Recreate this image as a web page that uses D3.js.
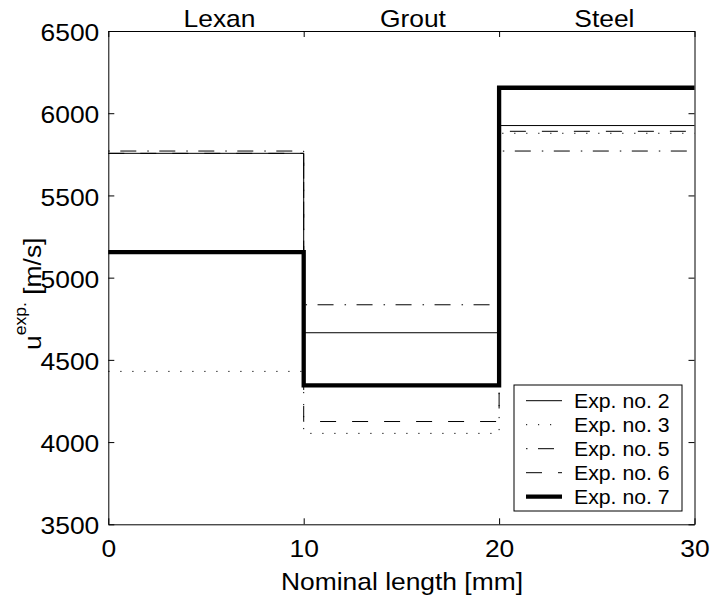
<!DOCTYPE html>
<html>
<head>
<meta charset="utf-8">
<script src="https://cdn.jsdelivr.net/npm/d3@7"></script>
<style>
  body { margin: 0; background: #fff; }
  svg { display: block; font-family: "Liberation Sans", Arial, Helvetica, sans-serif; }
</style>
</head>
<body>
<svg id="chart" width="713" height="598"></svg>
<script>
// Layer boundaries along the specimen [mm]
const edges = [0, 10, 20, 30];
const materials = ["Lexan", "Grout", "Steel"];
const materialLabelX = [3.85, 13.9, 23.85];
const xTicks = [0, 10, 20, 30];
const yTicks = [3500, 4000, 4500, 5000, 5500, 6000, 6500];

// Measured wave speed per layer [m/s]
const seriesNames = ["Exp. no. 2", "Exp. no. 3", "Exp. no. 5", "Exp. no. 6", "Exp. no. 7"];
const exp2 = [5756, 4665, 5925];
const exp3 = [4430, 4053, 5878];
const exp5 = [5770, 4835, 5770];
const exp6 = [5756, 4125, 5890];
const exp7 = [5155, 4345, 6155];
const seriesValues = [exp2, exp3, exp5, exp6, exp7];

// Line styles: solid, dotted, dash-dot, dashed, thick solid
const seriesDash = [null, "1.2,10.8", "1.5,10.5,16,11", "16,16", null];
const seriesWidth = [1, 1, 1, 1, 4.3];

const SX = 1.1; // horizontal glyph stretch
const W = 713, H = 598;
const plotL = 108.3, plotR = 694.5, plotT = 31, plotB = 524.3;

const svg = d3.select("#chart");
svg.append("rect").attr("width", W).attr("height", H).attr("fill", "#fff");

const x = d3.scaleLinear().domain([0, 30]).range([plotL, plotR]);
const y = d3.scaleLinear().domain([3500, 6500]).range([plotB, plotT]);

// Step lines
const line = d3.line()
  .x(d => x(d[0]))
  .y(d => y(d[1]))
  .curve(d3.curveStepAfter);

const stepPoints = vals => edges.map((e, i) => [e, vals[Math.min(i, vals.length - 1)]]);

const linesG = svg.append("g");
seriesValues.forEach((vals, i) => {
  linesG.append("path")
    .attr("d", line(stepPoints(vals)))
    .attr("fill", "none")
    .attr("stroke", "#000")
    .attr("stroke-width", seriesWidth[i])
    .attr("stroke-dasharray", seriesDash[i])
    .attr("stroke-linejoin", "miter")
    .attr("stroke-linecap", "butt");
});

// Axes (inward ticks, boxed)
const tick = 6;
const axisStyle = g => {
  g.select(".domain").attr("stroke", "#000").attr("stroke-width", 1);
  g.selectAll(".tick line").attr("stroke", "#000").attr("stroke-width", 1);
};

const gx = svg.append("g")
  .attr("transform", `translate(0,${plotB})`)
  .call(d3.axisBottom(x).tickValues(xTicks).tickFormat(d3.format("d"))
        .tickSizeInner(-tick).tickSizeOuter(0))
  .call(axisStyle);
gx.selectAll(".tick text")
  .attr("y", 32.4).attr("dy", null)
  .attr("font-size", 24).attr("fill", "#000")
  .attr("transform", `scale(${SX},1)`);

const gy = svg.append("g")
  .attr("transform", `translate(${plotL},0)`)
  .call(d3.axisLeft(y).tickValues(yTicks).tickFormat(d3.format("d"))
        .tickSizeInner(-tick).tickSizeOuter(0))
  .call(axisStyle);
gy.selectAll(".tick text")
  .attr("x", -8.2).attr("dy", "0.4em")
  .attr("font-size", 24).attr("fill", "#000")
  .attr("transform", `scale(${SX},1)`);

svg.append("g")
  .attr("transform", `translate(0,${plotT})`)
  .call(d3.axisTop(x).tickValues(xTicks).tickFormat("")
        .tickSizeInner(-tick).tickSizeOuter(0))
  .call(axisStyle);

svg.append("g")
  .attr("transform", `translate(${plotR},0)`)
  .call(d3.axisRight(y).tickValues(yTicks).tickFormat("")
        .tickSizeInner(-tick).tickSizeOuter(0))
  .call(axisStyle);

// Material names above each layer
materials.forEach((m, i) => {
  svg.append("text")
    .attr("transform", `translate(${x(materialLabelX[i])},${plotT - 4.3}) scale(${SX},1)`)
    .attr("font-size", 24)
    .attr("fill", "#000")
    .text(m);
});

// Axis titles
svg.append("text")
  .attr("transform", `translate(402,590) scale(${SX},1)`)
  .attr("text-anchor", "middle")
  .attr("font-size", 24)
  .attr("fill", "#000")
  .text("Nominal length [mm]");

const yl = svg.append("text")
  .attr("transform", `translate(41,350) rotate(-90) scale(${SX},1)`)
  .attr("font-size", 24)
  .attr("fill", "#000");
yl.append("tspan").text("u");
yl.append("tspan").attr("font-size", 16).attr("dy", -15).text("exp.");
yl.append("tspan").attr("dy", 15).text(" [m/s]");

// Legend
const lg = svg.append("g");
lg.append("rect")
  .attr("x", 514).attr("y", 385)
  .attr("width", 168).attr("height", 126)
  .attr("fill", "#fff").attr("stroke", "#000").attr("stroke-width", 1);

seriesNames.forEach((name, i) => {
  const ry = 400.7 + i * 24;
  lg.append("line")
    .attr("x1", 526).attr("x2", 562)
    .attr("y1", ry).attr("y2", ry)
    .attr("stroke", "#000")
    .attr("stroke-width", seriesWidth[i])
    .attr("stroke-dasharray", seriesDash[i]);
  lg.append("text")
    .attr("transform", `translate(574,${ry + 6.8}) scale(1.09,1)`)
    .attr("font-size", 19.5)
    .attr("fill", "#000")
    .text(name);
});
</script>
</body>
</html>
